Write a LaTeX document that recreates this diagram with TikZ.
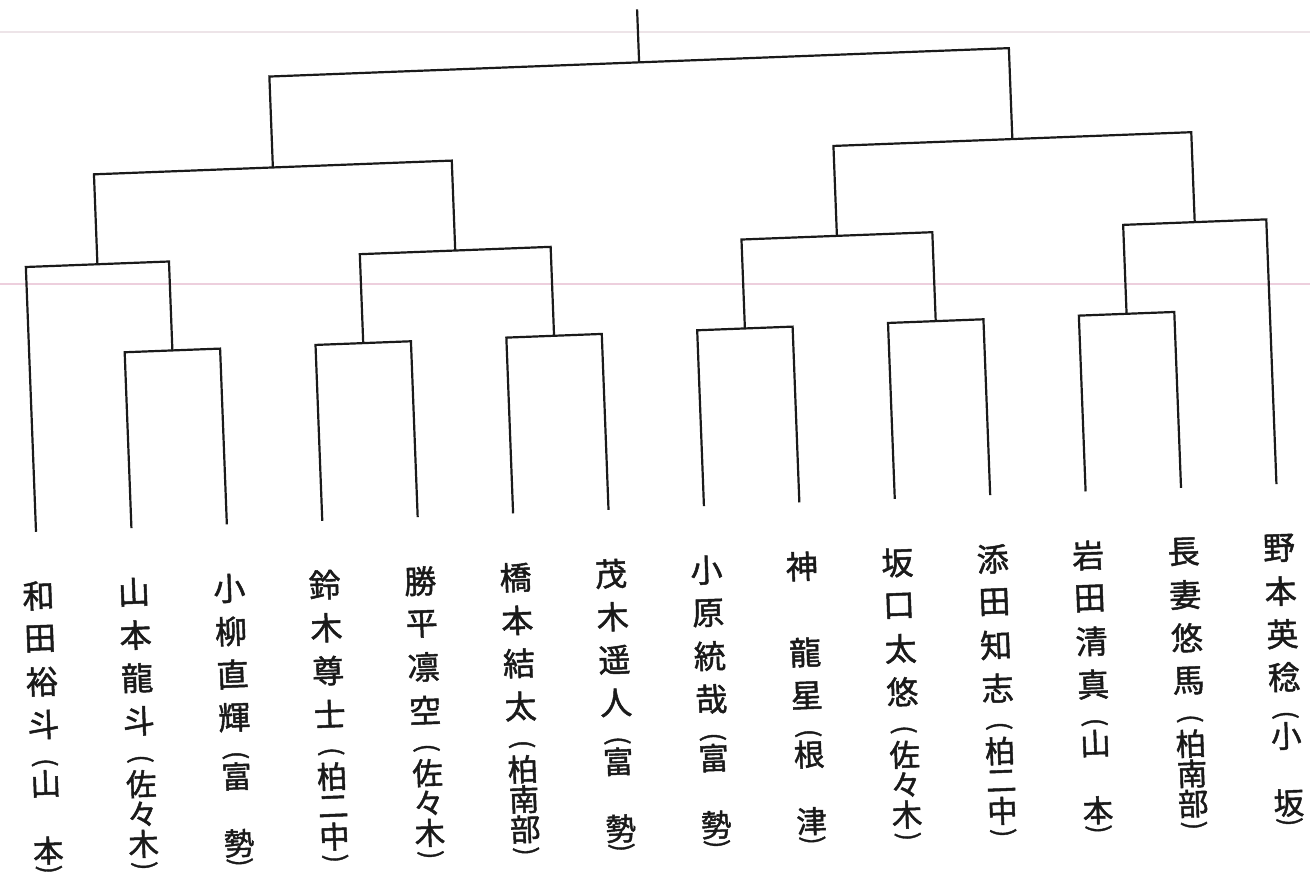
\documentclass[tikz,border=0pt]{standalone}
\usepackage{fontspec}
\newfontfamily\jp[FakeBold=1.5]{Noto Sans CJK JP}
\definecolor{ink}{HTML}{1A1A1A}
\definecolor{faintpink}{HTML}{EDCFDD}
\definecolor{faintgray}{HTML}{EDE4E8}
\tikzset{
  jp/.style={font=\jp\fontsize{32}{32}\selectfont, inner sep=0pt, transform shape, text=ink},
  jps/.style={font=\jp\fontsize{30.5}{30.5}\selectfont, inner sep=0pt, transform shape, text=ink},
  paren/.style={font=\jp\fontsize{26}{26}\selectfont, inner sep=0pt, transform shape, text=ink, rotate=-90},
  bracket/.style={draw=ink, line width=2.2pt, line join=miter},
  faint/.style={line width=1.2pt}
}
\newcommand\vcol[4]{%
  \foreach \c/\s [count=\k] in {#3} {\node[jp] (n#1-\k) at (#2,{572+43*\s}) {\c};}
  \node[paren] (po#1) at (#2,739) {(};
  \foreach \c/\s [count=\k] in {#4} {\node[jps] (s#1-\k) at (#2,{572+\s}) {\c};}
  \node[paren] (pc#1) at (#2,846) {)};
}
\begin{document}
\begin{tikzpicture}[x=1pt,y=-1pt]
\useasboundingbox (0,0) rectangle (1310,884);
\draw[faint, draw=faintgray] (0,32) -- (1310,32);
\draw[faint, draw=faintpink] (0,284) -- (1310,284);
\begin{scope}[rotate around={2.2:(655,442)}]
  % leaves
  \foreach \i in {0,...,13} \coordinate (b\i) at ({33+95.5*\i},508);
  % first round
  \coordinate (p12) at (176.25,332);
  \coordinate (p34) at (367.25,332);
  \coordinate (p56) at (558.25,332);
  \coordinate (p78) at (749.25,332);
  \coordinate (p910) at (940.25,332);
  \coordinate (p1112) at (1131.25,332);
  % second round
  \coordinate (gA) at (104.625,243);
  \coordinate (gB) at (462.75,243);
  \coordinate (gC) at (844.75,243);
  \coordinate (gD) at (1202.875,243);
  % semifinals
  \coordinate (hL) at (283.69,153);
  \coordinate (hR) at (1023.81,153);
  % final
  \coordinate (r) at (653.75,62);
  \coordinate (rtop) at (653.75,9);

  \draw[bracket] (b1) |- (p12) -| (b2);
  \draw[bracket] (b3) |- (p34) -| (b4);
  \draw[bracket] (b5) |- (p56) -| (b6);
  \draw[bracket] (b7) |- (p78) -| (b8);
  \draw[bracket] (b9) |- (p910) -| (b10);
  \draw[bracket] (b11) |- (p1112) -| (b12);
  \draw[bracket] (b0) |- (gA) -| (p12);
  \draw[bracket] (p34) |- (gB) -| (p56);
  \draw[bracket] (p78) |- (gC) -| (p910);
  \draw[bracket] (p1112) |- (gD) -| (b13);
  \draw[bracket] (gA) |- (hL) -| (gB);
  \draw[bracket] (gC) |- (hR) -| (gD);
  \draw[bracket] (hL) |- (r) -| (hR);
  \draw[bracket] (r) -- (rtop);

  % labels
  \vcol{0}{33}{和/0,田/1,裕/2,斗/3}{山/188,本/255}
  \vcol{1}{128.5}{山/0,本/1,龍/2,斗/3}{佐/192,々/222,木/252}
  \vcol{2}{224}{小/0,柳/1,直/2,輝/3}{富/188,勢/255}
  \vcol{3}{319.5}{鈴/0,木/1,尊/2,士/3}{柏/192,二/222,中/252}
  \vcol{4}{415}{勝/0,平/1,凛/2,空/3}{佐/192,々/222,木/252}
  \vcol{5}{510.5}{橋/0,本/1,結/2,太/3}{柏/192,南/222,部/252}
  \vcol{6}{606}{茂/0,木/1,遥/2,人/3}{富/188,勢/255}
  \vcol{7}{701.5}{小/0,原/1,統/2,哉/3}{富/188,勢/255}
  \vcol{8}{797}{神/0,龍/2,星/3}{根/188,津/255}
  \vcol{9}{892.5}{坂/0,口/1,太/2,悠/3}{佐/192,々/222,木/252}
  \vcol{10}{988}{添/0,田/1,知/2,志/3}{柏/192,二/222,中/252}
  \vcol{11}{1083.5}{岩/0,田/1,清/2,真/3}{山/188,本/255}
  \vcol{12}{1179}{長/0,妻/1,悠/2,馬/3}{柏/192,南/222,部/252}
  \vcol{13}{1274.5}{野/0,本/1,英/2,稔/3}{小/188,坂/255}
\end{scope}
\end{tikzpicture}
\end{document}
